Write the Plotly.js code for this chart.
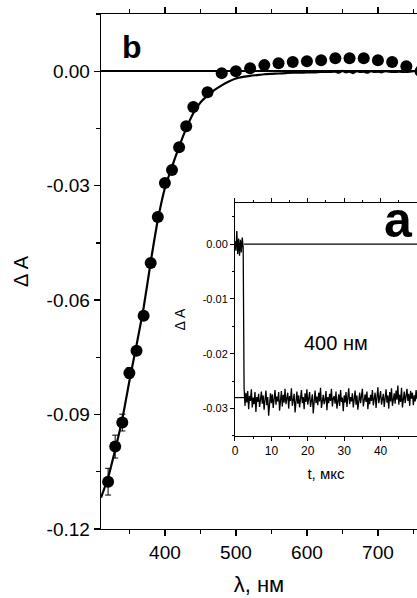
<!DOCTYPE html>
<html>
<head>
<meta charset="utf-8">
<script src="https://cdn.plot.ly/plotly-3.0.1.min.js"></script>
<style>html,body{margin:0;padding:0;background:#fff;}#chart{width:417px;height:598px;}</style>
</head>
<body>
<div id="chart"></div>
<script>
// ---- main panel (b): transient absorption spectrum ----
var pointX = [320,330,340,350,360,370,380,390,400,410,420,430,440,460,480,500,520,540,560,580,600,620,640,660,680,700,720,740,760];
var pointY = [-0.1076,-0.0984,-0.0921,-0.0791,-0.0733,-0.0641,-0.0503,-0.0382,-0.0293,-0.0259,-0.0199,-0.0144,-0.0094,-0.0055,-0.0005,0.0000,0.0008,0.0016,0.0021,0.0024,0.0026,0.0029,0.0034,0.0034,0.0034,0.0029,0.0024,0.0013,0.0000];
var pointErr = [0.0035,0.0030,0.0022,0.0014,0,0,0,0,0,0,0,0,0,0,0,0,0,0,0,0,0,0,0,0,0,0,0,0,0];

var curveX = [310,320,330,340,350,360,370,380,390,400,410,420,430,440,450,460,470,480,490,500,510,520,530,540,550,560,570,580,590,600,610,620,630,640,645,650,655,660,665,670,675,680,685,690,695,700,705,710,720,730,740,750,760];
var curveY = [-0.1118,-0.1065,-0.0992,-0.0912,-0.0812,-0.0718,-0.0620,-0.0500,-0.0390,-0.0306,-0.0250,-0.0198,-0.0150,-0.0110,-0.0082,-0.0064,-0.0049,-0.0037,-0.0027,-0.0019,-0.0015,-0.0012,-0.0010,-0.0008,-0.0007,-0.0006,-0.0005,-0.0004,-0.0004,-0.0003,-0.0003,-0.0002,-0.0002,-0.0001,-0.0004,0.0001,-0.0003,-0.0001,-0.0005,0.0000,-0.0002,-0.0001,-0.0004,0.0000,-0.0002,-0.0001,-0.0003,0.0000,-0.0002,-0.0001,-0.0002,0.0000,-0.0001];

var mainXTicks = [400,500,600,700];
var mainXLabels = ['400','500','600','700'];
var mainYTicks = [0,-0.03,-0.06,-0.09,-0.12];
var mainYLabels = ['0.00','-0.03','-0.06','-0.09','-0.12'];

// ---- inset (a): kinetics at 400 nm, sampled every 0.25 us from t = 0 ----
var insetT0 = 0;
var insetDt = 0.25;
var insetSignal = [
 0.0005,-0.0012,0.0024,-0.0018,0.0010,-0.0021,0.0008,-0.0015,0.0012,-0.0006,
 -0.0262,-0.0295,-0.0271,-0.0289,-0.0268,-0.0301,-0.0277,-0.0286,-0.0265,-0.0298,
 -0.0280,-0.0292,-0.0270,-0.0306,-0.0279,-0.0288,-0.0273,-0.0297,-0.0284,-0.0269,
 -0.0291,-0.0276,-0.0302,-0.0283,-0.0267,-0.0294,-0.0279,-0.0313,-0.0285,-0.0272,
 -0.0290,-0.0274,-0.0299,-0.0281,-0.0266,-0.0293,-0.0278,-0.0287,-0.0270,-0.0304,
 -0.0282,-0.0268,-0.0296,-0.0275,-0.0289,-0.0264,-0.0292,-0.0280,-0.0271,-0.0300,
 -0.0277,-0.0286,-0.0263,-0.0295,-0.0281,-0.0273,-0.0307,-0.0284,-0.0269,-0.0291,
 -0.0276,-0.0298,-0.0283,-0.0266,-0.0290,-0.0279,-0.0301,-0.0272,-0.0288,-0.0265,
 -0.0293,-0.0280,-0.0270,-0.0297,-0.0285,-0.0274,-0.0309,-0.0282,-0.0267,-0.0290,
 -0.0278,-0.0294,-0.0271,-0.0287,-0.0262,-0.0299,-0.0281,-0.0275,-0.0292,-0.0284,
 -0.0268,-0.0303,-0.0279,-0.0290,-0.0273,-0.0286,-0.0264,-0.0296,-0.0282,-0.0277,
 -0.0291,-0.0269,-0.0300,-0.0283,-0.0274,-0.0295,-0.0266,-0.0288,-0.0280,-0.0305,
 -0.0276,-0.0289,-0.0270,-0.0297,-0.0284,-0.0263,-0.0292,-0.0279,-0.0287,-0.0272,
 -0.0298,-0.0281,-0.0267,-0.0293,-0.0276,-0.0302,-0.0285,-0.0271,-0.0290,-0.0278,
 -0.0264,-0.0296,-0.0283,-0.0274,-0.0288,-0.0269,-0.0301,-0.0280,-0.0292,-0.0275,
 -0.0286,-0.0266,-0.0294,-0.0279,-0.0271,-0.0299,-0.0284,-0.0261,-0.0290,-0.0277,
 -0.0268,-0.0293,-0.0281,-0.0273,-0.0297,-0.0285,-0.0265,-0.0289,-0.0276,-0.0300,
 -0.0270,-0.0287,-0.0263,-0.0295,-0.0279,-0.0272,-0.0291,-0.0267,-0.0284,-0.0258,
 -0.0293,-0.0275,-0.0288,-0.0262,-0.0298,-0.0280,-0.0269,-0.0290,-0.0277,-0.0264,
 -0.0286,-0.0273,-0.0295,-0.0268,-0.0282,-0.0271,-0.0294,-0.0276,-0.0287,-0.0266,
 -0.0283
];
var baseX = [2.5, 50];
var baseY = [0, 0];
var levelX = [0, 2.5];
var levelY = [-0.028, -0.028];

var insetXTicks = [0,10,20,30,40,50];
var insetXLabels = ['0','10','20','30','40','50'];
var insetYTicks = [0,-0.01,-0.02,-0.03];
var insetYLabels = ['0.00','-0.01','-0.02','-0.03'];

var FONT = 'Liberation Sans, Arial, sans-serif';

var traces = [
  {x: pointX, y: pointY, type: 'scatter', mode: 'markers',
   marker: {color: '#000', size: 12},
   error_y: {type: 'data', array: pointErr, visible: true, color: '#000', thickness: 1, width: 3},
   xaxis: 'x', yaxis: 'y', hoverinfo: 'skip'},
  {x: curveX, y: curveY, type: 'scatter', mode: 'lines',
   line: {color: '#000', width: 2.2, shape: 'spline', smoothing: 0.5},
   xaxis: 'x', yaxis: 'y', hoverinfo: 'skip'},
  {x: baseX, y: baseY, type: 'scatter', mode: 'lines',
   line: {color: '#000', width: 1.2}, xaxis: 'x2', yaxis: 'y2', hoverinfo: 'skip'},
  {x: levelX, y: levelY, type: 'scatter', mode: 'lines',
   line: {color: '#000', width: 1.2}, xaxis: 'x2', yaxis: 'y2', hoverinfo: 'skip'},
  {x0: insetT0, dx: insetDt, y: insetSignal, type: 'scatter', mode: 'lines',
   line: {color: '#000', width: 1.3}, xaxis: 'x2', yaxis: 'y2', hoverinfo: 'skip'}
];

var axisCommon = {
  showline: true, linecolor: '#000', linewidth: 1.3,
  ticks: 'outside', tickcolor: '#000', tickwidth: 1.3,
  showgrid: false, zeroline: false, tickmode: 'array'
};

var layout = {
  width: 417, height: 598,
  margin: {l: 101, r: 0, t: 14, b: 69, pad: 0},
  paper_bgcolor: '#fff', plot_bgcolor: '#fff',
  showlegend: false,
  font: {family: FONT, color: '#000'},
  xaxis: Object.assign({}, axisCommon, {
    domain: [0, 1], anchor: 'y', range: [310, 755], mirror: 'ticks',
    ticklen: 6, tickvals: mainXTicks, ticktext: mainXLabels,
    tickfont: {size: 19, family: FONT, color: '#000'},
    minor: {tickmode: 'linear', tick0: 0, dtick: 50, ticks: 'outside', ticklen: 4, tickcolor: '#000', tickwidth: 1.3},
    title: {text: 'λ, нм', font: {size: 22, family: FONT, color: '#000'}, standoff: 14}
  }),
  yaxis: Object.assign({}, axisCommon, {
    domain: [0, 1], anchor: 'x', range: [-0.12, 0.015], mirror: false,
    ticklen: 6, tickvals: mainYTicks, ticktext: mainYLabels,
    tickfont: {size: 19, family: FONT, color: '#000'},
    zeroline: true, zerolinecolor: '#000', zerolinewidth: 1.5,
    minor: {tickmode: 'linear', tick0: 0, dtick: 0.015, ticks: 'outside', ticklen: 4, tickcolor: '#000', tickwidth: 1.3},
    title: {text: 'Δ A', font: {size: 20, family: FONT, color: '#000'}, standoff: 12}
  }),
  xaxis2: Object.assign({}, axisCommon, {
    domain: [0.424, 1], anchor: 'y2', range: [0, 50], mirror: 'ticks',
    ticklen: 4, tickwidth: 1, linewidth: 1, tickvals: insetXTicks, ticktext: insetXLabels,
    tickfont: {size: 12, family: FONT, color: '#000'},
    minor: {tickmode: 'linear', tick0: 0, dtick: 5, ticks: 'outside', ticklen: 2, tickcolor: '#000', tickwidth: 1},
    title: {text: 't, мкс', font: {size: 15, family: FONT, color: '#000'}, standoff: 11}
  }),
  yaxis2: Object.assign({}, axisCommon, {
    domain: [0.1806, 0.633], anchor: 'x2', range: [-0.035, 0.0075], mirror: false,
    ticklen: 4, tickwidth: 1, linewidth: 1, tickvals: insetYTicks, ticktext: insetYLabels,
    tickfont: {size: 11, family: FONT, color: '#000'},
    minor: {tickmode: 'linear', tick0: 0, dtick: 0.005, ticks: 'outside', ticklen: 2, tickcolor: '#000', tickwidth: 1},
    title: {text: 'Δ A', font: {size: 14, family: FONT, color: '#000'}, standoff: 13}
  }),
  annotations: [
    {text: '<b>b</b>', xref: 'paper', yref: 'paper', x: 0.098, y: 0.936, xanchor: 'center', yanchor: 'middle',
     showarrow: false, font: {size: 32, family: FONT, color: '#000'}},
    {text: '<b>a</b>', xref: 'paper', yref: 'paper', x: 0.94, y: 0.60, xanchor: 'center', yanchor: 'middle',
     showarrow: false, font: {size: 50, family: FONT, color: '#000'}},
    {text: '400 нм', xref: 'paper', yref: 'paper', x: 0.744, y: 0.361, xanchor: 'center', yanchor: 'middle',
     showarrow: false, font: {size: 20, family: FONT, color: '#000'}}
  ]
};

Plotly.newPlot('chart', traces, layout, {staticPlot: true, displayModeBar: false});
</script>
</body>
</html>
